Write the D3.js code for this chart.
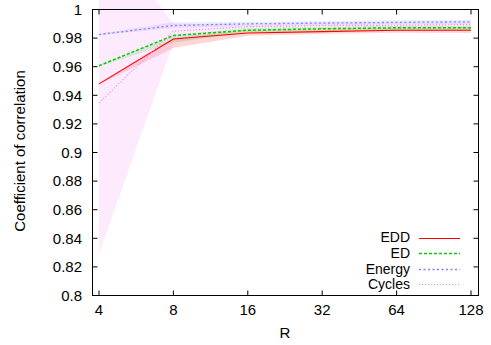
<!DOCTYPE html>
<html><head><meta charset="utf-8">
<script src="https://cdn.jsdelivr.net/npm/d3@7"></script>
<style>body{margin:0;background:#fff}svg{display:block}text{font-family:"Liberation Sans",Arial,sans-serif;font-size:15px;fill:#000}</style>
</head><body><svg id="c" width="491" height="345"></svg>
<script>
const R = [4, 8, 16, 32, 64, 128];
const yTicks = [0.8, 0.82, 0.84, 0.86, 0.88, 0.9, 0.92, 0.94, 0.96, 0.98, 1];
const seriesNames = ["EDD", "ED", "Energy", "Cycles"];
const eddMean = [0.948, 0.9794, 0.9836, 0.9845, 0.9855, 0.9855];
const eddLow  = [0.9475, 0.973, 0.9816, 0.9828, 0.9838, 0.9836];
const eddHigh = [0.9485, 0.980, 0.9856, 0.9862, 0.9872, 0.9876];
const edMean = [0.9607, 0.9818, 0.9855, 0.9865, 0.9872, 0.9872];
const edLow  = [0.9602, 0.977, 0.984, 0.985, 0.9857, 0.9857];
const edHigh = [0.9612, 0.982, 0.987, 0.988, 0.9887, 0.9887];
const energyMean = [0.9825, 0.9888, 0.990, 0.9905, 0.991, 0.9914];
const energyLow  = [0.982, 0.987, 0.9885, 0.989, 0.9895, 0.9899];
const energyHigh = [0.983, 0.991, 0.9915, 0.992, 0.9925, 0.9929];
const cyclesMean = [0.9347, 0.9848, 0.988, 0.9888, 0.989, 0.9895];
const cyclesLow  = [0.829, 0.9765, 0.9865, 0.9873, 0.9875, 0.988];
const cyclesHigh = [1.06, 0.990, 0.9895, 0.9903, 0.9905, 0.991];

const series = [
  {name: seriesNames[0], mean: eddMean, low: eddLow, high: eddHigh, color: "#ff0000", dash: null, w: 1.1},
  {name: seriesNames[1], mean: edMean, low: edLow, high: edHigh, color: "#00cc00", dash: "3,2", w: 1.5},
  {name: seriesNames[2], mean: energyMean, low: energyLow, high: energyHigh, color: "#8080ff", dash: "2,2.5", w: 1.3},
  {name: seriesNames[3], mean: cyclesMean, low: cyclesLow, high: cyclesHigh, color: "#f080f0", dash: "1,2", w: 1.2}
];

const svg = d3.select("#c");
const L = 92.5, Rr = 478.5, T = 9.5, B = 295.5;
const x = d3.scaleLog().base(2).domain([4, 128]).range([99, 471]);
const y = d3.scaleLinear().domain([0.8, 1]).range([B, T]);

// bands
series.forEach(s => {
  const area = d3.area().x((d, i) => x(R[i])).y0((d, i) => y(s.low[i])).y1((d, i) => y(s.high[i]));
  svg.append("path").datum(R).attr("d", area).attr("fill", s.color).attr("fill-opacity", 0.16).attr("stroke", "none");
});

// border
svg.append("rect").attr("x", L).attr("y", T).attr("width", Rr - L).attr("height", B - T)
  .attr("fill", "none").attr("stroke", "#000").attr("stroke-width", 1);

const tl = 5;
const g = svg.append("g").attr("stroke", "#000").attr("stroke-width", 1);
yTicks.forEach(v => {
  g.append("line").attr("x1", L).attr("x2", L + tl).attr("y1", y(v)).attr("y2", y(v));
  g.append("line").attr("x1", Rr).attr("x2", Rr - tl).attr("y1", y(v)).attr("y2", y(v));
  svg.append("text").attr("x", 82).attr("y", y(v)).attr("dy", "0.35em").attr("text-anchor", "end").text(d3.format("")(v));
});
R.forEach(v => {
  g.append("line").attr("x1", x(v)).attr("x2", x(v)).attr("y1", B).attr("y2", B - tl);
  g.append("line").attr("x1", x(v)).attr("x2", x(v)).attr("y1", T).attr("y2", T + tl);
  svg.append("text").attr("x", x(v)).attr("y", 314.5).attr("text-anchor", "middle").text(v);
});

// lines
series.forEach(s => {
  const line = d3.line().x((d, i) => x(R[i])).y((d, i) => y(s.mean[i]));
  svg.append("path").datum(R).attr("d", line).attr("fill", "none").attr("stroke", s.color)
    .attr("stroke-width", s.w).attr("stroke-dasharray", s.dash);
});

// legend
series.forEach((s, i) => {
  const ly = 237.5 + i * 15.6;
  svg.append("text").attr("x", 410).attr("y", ly).attr("dy", "0.35em").attr("text-anchor", "end")
    .style("font-size", "14px").text(s.name);
  const yy = Math.round(ly) + 0.5;
  svg.append("line").attr("x1", 419).attr("x2", 460).attr("y1", yy).attr("y2", yy)
    .attr("stroke", s.color).attr("stroke-width", s.w).attr("stroke-dasharray", s.dash);
});

svg.append("text").attr("x", 285).attr("y", 338).attr("text-anchor", "middle").text("R");
svg.append("text").attr("transform", "translate(25,151) rotate(-90)").attr("text-anchor", "middle").text("Coefficient of correlation");
</script></body></html>
